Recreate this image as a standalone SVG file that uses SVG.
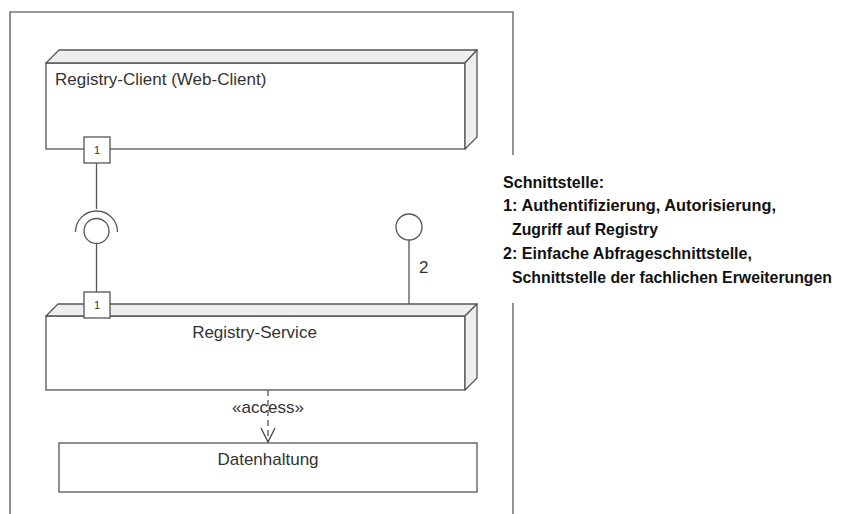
<svg xmlns="http://www.w3.org/2000/svg" width="851" height="514" viewBox="0 0 851 514">
<style>
.frame{fill:none;stroke:#777;stroke-width:1.6}
.edge{fill:none;stroke:#555;stroke-width:1.3}
.box{fill:#fff;stroke:#555;stroke-width:1.3}
.face{fill:#eeeeee;stroke:#555;stroke-width:1.3;stroke-linejoin:round}
.lbl{font-family:"Liberation Sans",Arial,sans-serif;font-size:17px;fill:#333}
.port{font-family:"Liberation Sans",Arial,sans-serif;font-size:11px;fill:#333}
.note{font-family:"Liberation Sans",Arial,sans-serif;font-size:16.5px;font-weight:bold;fill:#111}
</style>
<defs>
<marker id="open" viewBox="0 0 16 16" refX="15" refY="8" markerWidth="16" markerHeight="16" markerUnits="userSpaceOnUse" orient="auto">
<path d="M1,1 L15,8 L1,15" fill="none" stroke="#444" stroke-width="1.3"/>
</marker>
</defs>
<rect width="851" height="514" fill="#fff"/>
<g id="frame">
<path class="frame" d="M10,514 V12 H513 V155 M513,303 V514"/>
</g>
<g id="registry-client">
<rect class="box" x="46" y="63" width="419" height="86"/>
<polygon class="face" points="46,63 59,50 477,50 465,63"/>
<polygon class="face" points="465,63 477,50 477,137 465,149"/>
<text class="lbl" x="55" y="85">Registry-Client (Web-Client)</text>
</g>
<g id="registry-service">
<rect class="box" x="46" y="316" width="419" height="74"/>
<polygon class="face" points="46,316 58,304 477,304 465,316"/>
<polygon class="face" points="465,316 477,304 477,378 465,390"/>
<text class="lbl" x="254.5" y="338" text-anchor="middle">Registry-Service</text>
</g>
<g id="datenhaltung">
<rect class="box" x="59" y="443" width="418" height="49"/>
<text class="lbl" x="268" y="465" text-anchor="middle">Datenhaltung</text>
</g>
<g id="connectors">
<line class="edge" x1="96.5" y1="163" x2="96.5" y2="209"/>
<path class="edge" d="M75.5,232 A21,21 0 0 1 117.5,232"/>
<circle class="edge" cx="96.5" cy="231" r="12.5"/>
<line class="edge" x1="96.5" y1="243.5" x2="96.5" y2="292"/>
<circle class="edge" cx="409" cy="227" r="13"/>
<line class="edge" x1="409" y1="240" x2="409" y2="304"/>
<text class="lbl" x="419" y="273">2</text>
<line class="edge" x1="268" y1="390" x2="268" y2="442" stroke-dasharray="6,4" marker-end="url(#open)"/>
<text class="lbl" x="268" y="413" text-anchor="middle">«access»</text>
</g>
<g id="port-client">
<rect class="box" x="84" y="137" width="26" height="26"/>
<text class="port" x="97" y="154" text-anchor="middle">1</text>
</g>
<g id="port-service">
<rect class="box" x="84" y="292" width="26" height="26"/>
<text class="port" x="97" y="309" text-anchor="middle">1</text>
</g>
<g id="legend">
<text class="note" x="503" y="188" textLength="101" lengthAdjust="spacingAndGlyphs">Schnittstelle:</text>
<text class="note" x="503" y="211" textLength="273" lengthAdjust="spacingAndGlyphs">1: Authentifizierung, Autorisierung,</text>
<text class="note" x="512" y="235" textLength="146" lengthAdjust="spacingAndGlyphs">Zugriff auf Registry</text>
<text class="note" x="503" y="259" textLength="249" lengthAdjust="spacingAndGlyphs">2: Einfache Abfrageschnittstelle,</text>
<text class="note" x="512" y="283" textLength="320" lengthAdjust="spacingAndGlyphs">Schnittstelle der fachlichen Erweiterungen</text>
</g>
</svg>
